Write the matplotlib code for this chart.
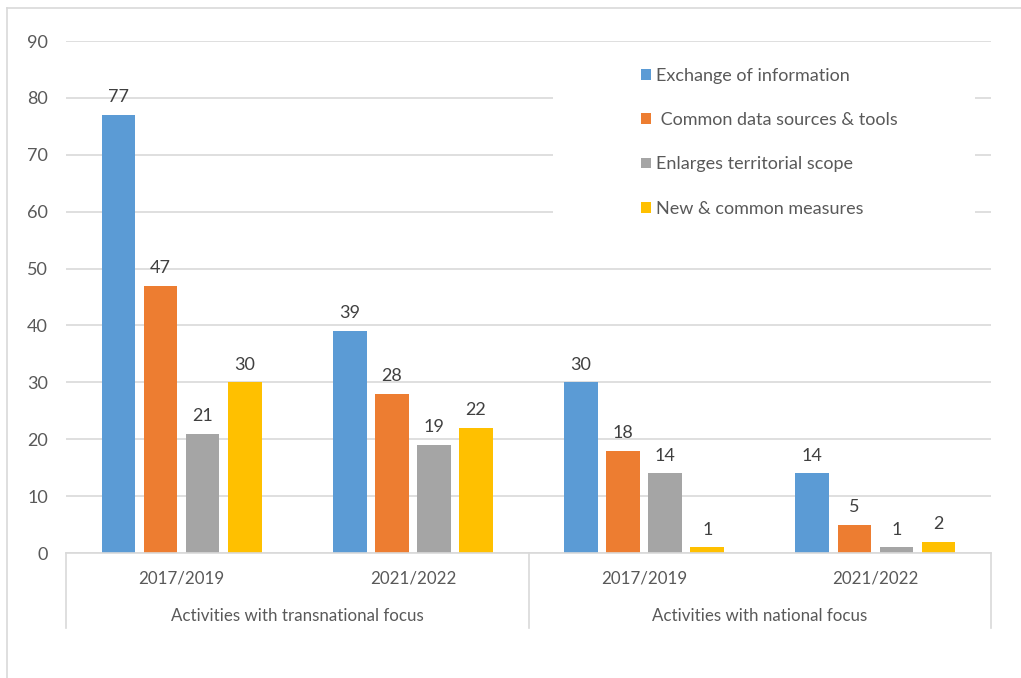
import numpy as np
import matplotlib.pyplot as plt
from matplotlib.lines import Line2D
from matplotlib.patches import Rectangle
import matplotlib.transforms as transforms

# data
periods = ['2017/2019', '2021/2022', '2017/2019', '2021/2022']
focus_groups = ['Activities with transnational focus', 'Activities with national focus']
series_names = ['Exchange of information', ' Common data sources & tools',
                'Enlarges territorial scope', 'New & common measures']
exchange_info = [77, 39, 30, 14]
common_data = [47, 28, 18, 5]
territorial_scope = [21, 19, 14, 1]
common_measures = [30, 22, 1, 2]

colors = ['#5B9BD5', '#ED7D31', '#A5A5A5', '#FFC000']
grid_col = '#D9D9D9'
text_col = '#595959'

plt.rcParams['font.family'] = ['Lato', 'DejaVu Sans']

W, H = 1021, 678
fig = plt.figure(figsize=(W / 100, H / 100), dpi=100)
# plot area placed in pixel terms so it lines up with the original
ax = fig.add_axes([66 / W, (H - 553) / H, 925 / W, 512 / H])

all_series = [exchange_info, common_data, territorial_scope, common_measures]
x = np.arange(len(periods))
step = 0.182
bar_w = 0.145
for i, vals in enumerate(all_series):
    offs = (i - 1.5) * step
    bars = ax.bar(x + offs, vals, width=bar_w, color=colors[i], label=series_names[i], zorder=3)
    for b, v in zip(bars, vals):
        ax.annotate(str(v), (b.get_x() + b.get_width() / 2, v), xytext=(0, 7),
                    textcoords='offset points', ha='center', va='bottom',
                    fontsize=13, color='#404040')

ax.set_xlim(-0.5, len(periods) - 0.5)
ax.set_ylim(0, 90)
ax.set_yticks(range(0, 91, 10))
ax.tick_params(axis='y', length=0, pad=13, labelsize=13, labelcolor=text_col)
ax.set_xticks([])
ax.grid(axis='y', color=grid_col, linewidth=1.2, zorder=0)
ax.set_axisbelow(True)
for s in ['top', 'right', 'left']:
    ax.spines[s].set_visible(False)
ax.spines['bottom'].set_color(grid_col)
ax.spines['bottom'].set_linewidth(1.2)
ax.spines['bottom'].set_zorder(4)

# two level category axis (year row + focus row) like excel does it
trans = transforms.blended_transform_factory(ax.transData, ax.transAxes)
for xi, p in zip(x, periods):
    ax.text(xi, -26 / 512, p, transform=trans, ha='center', va='center',
            fontsize=12.2, color=text_col)
for g, name in enumerate(focus_groups):
    ax.text(2 * g + 0.5, -63 / 512, name, transform=trans, ha='center', va='center',
            fontsize=12.2, color=text_col)
for xs in [-0.5, 1.5, 3.5]:
    ax.add_line(Line2D([xs, xs], [0, -75 / 512], transform=trans, color=grid_col,
                       linewidth=1.2, clip_on=False))

# white box behind the legend hides the gridlines there
ax.add_patch(Rectangle((553 / W, (H - 240) / H), 422 / W, 185 / H, transform=fig.transFigure,
                       facecolor='white', edgecolor='none', zorder=2))
ax.legend(loc='upper left', bbox_to_anchor=(632 / W, (H - 59) / H), bbox_transform=fig.transFigure,
          frameon=False, fontsize=13, labelcolor=text_col, handlelength=0.55, handleheight=0.55,
          handletextpad=0.3, labelspacing=1.56, borderpad=0)

# chart border (only top/left edges show in the crop)
fig.add_artist(Line2D([7 / W, 7 / W], [0, (H - 8) / H], transform=fig.transFigure, color=grid_col, linewidth=1.2))
fig.add_artist(Line2D([7 / W, 1], [(H - 8) / H, (H - 8) / H], transform=fig.transFigure, color=grid_col, linewidth=1.2))

fig.savefig('out.png', dpi=100)
